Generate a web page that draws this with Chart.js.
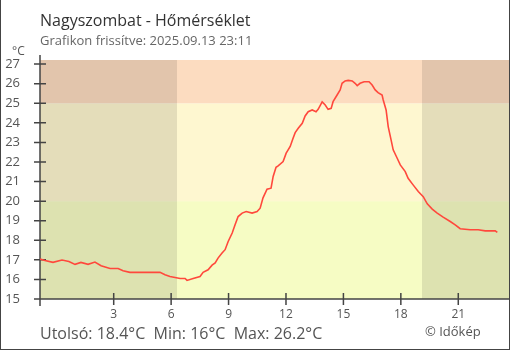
<!DOCTYPE html>
<html>
<head>
<meta charset="utf-8">
<script src="https://cdn.jsdelivr.net/npm/chart.js@4/dist/chart.umd.min.js"></script>
<style>
  html, body { margin: 0; padding: 0; background: #fff; }
  #wrap { position: relative; width: 510px; height: 350px; }
</style>
</head>
<body>
<div id="wrap"><canvas id="myChart" width="510" height="350"></canvas></div>
<script>
// hours since midnight (negative = previous evening)
var hours = [-0.85, -0.59, -0.17, 0.30, 0.66, 0.98, 1.29, 1.66, 2.02, 2.34,
  2.81, 3.23, 3.49, 3.85, 4.64, 5.42, 5.68, 5.94, 6.47, 6.73,
  6.83, 7.15, 7.51, 7.67, 7.93, 8.14, 8.30, 8.45, 8.66, 8.82,
  8.98, 9.19, 9.34, 9.50, 9.71, 9.92, 10.23, 10.49, 10.65, 10.80,
  11.01, 11.22, 11.33, 11.48, 11.59, 11.85, 12.01, 12.22, 12.37, 12.48,
  12.64, 12.85, 13.00, 13.16, 13.37, 13.57, 13.68, 13.89, 14.05, 14.20,
  14.36, 14.46, 14.67, 14.83, 14.93, 15.09, 15.25, 15.46, 15.61, 15.72,
  15.87, 16.08, 16.34, 16.50, 16.66, 16.81, 17.02, 17.08, 17.23, 17.34,
  17.49, 17.60, 17.81, 17.97, 18.23, 18.38, 18.64, 18.91, 19.17, 19.38,
  19.64, 19.90, 20.21, 20.58, 20.84, 21.10, 21.62, 22.04, 22.41, 22.93, 23.04];
var temps = [17.04, 16.97, 16.87, 16.99, 16.92, 16.77, 16.87, 16.77, 16.89, 16.70,
  16.56, 16.56, 16.44, 16.36, 16.36, 16.36, 16.24, 16.15, 16.05, 16.05,
  15.95, 16.05, 16.15, 16.36, 16.49, 16.73, 16.84, 17.09, 17.35, 17.52,
  17.94, 18.37, 18.79, 19.21, 19.39, 19.47, 19.39, 19.47, 19.64, 20.17,
  20.61, 20.66, 21.26, 21.73, 21.80, 22.02, 22.45, 22.79, 23.21, 23.50,
  23.72, 23.98, 24.35, 24.57, 24.66, 24.57, 24.69, 25.07, 24.91, 24.69,
  24.74, 25.08, 25.42, 25.68, 26.02, 26.14, 26.17, 26.14, 26.02, 25.90,
  26.02, 26.10, 26.10, 25.93, 25.68, 25.54, 25.42, 25.17, 24.66, 23.81,
  23.13, 22.62, 22.19, 21.85, 21.51, 21.17, 20.83, 20.49, 20.23, 19.86,
  19.59, 19.39, 19.18, 18.96, 18.79, 18.59, 18.54, 18.54, 18.48, 18.48, 18.40];

var xTicks = [3, 6, 9, 12, 15, 18, 21];
var yTicks = [15, 16, 17, 18, 19, 20, 21, 22, 23, 24, 25, 26, 27];
var bandLimits = [20, 25];       // temperature colour zones
var sunrise = 6.29, sunset = 19.1;

var titleText = 'Nagyszombat - Hőmérséklet';
var subText = 'Grafikon frissítve: 2025.09.13 23:11';
var footText = 'Utolsó: 18.4°C  Min: 16°C  Max: 26.2°C';
var creditText = '© Időkép';

var points = [];
for (var i in hours) {
    points.push({x: hours[i], y: temps[i]});
}

var FONT = '"Open Sans", sans-serif';
var AXIS = '#444';

var bgPlugin = {
    id: 'bands',
    beforeDatasetsDraw: function(chart) {
        var c = chart.ctx, a = chart.chartArea;
        var xs = chart.scales.x, ys = chart.scales.y;
        var yLow = ys.getPixelForValue(bandLimits[0]);
        var yHigh = ys.getPixelForValue(bandLimits[1]);
        c.save();
        c.fillStyle = '#f6fcc4';
        c.fillRect(a.left, yLow, a.right - a.left, a.bottom - yLow);
        c.fillStyle = '#fef7d0';
        c.fillRect(a.left, yHigh, a.right - a.left, yLow - yHigh);
        c.fillStyle = '#fcdcc0';
        c.fillRect(a.left, a.top, a.right - a.left, yHigh - a.top);
        // night shading
        var xr = Math.round(xs.getPixelForValue(sunrise));
        var xsn = Math.round(xs.getPixelForValue(sunset));
        c.fillStyle = 'rgba(0,0,0,0.1)';
        c.fillRect(a.left, a.top, xr - a.left, a.bottom - a.top);
        c.fillRect(xsn, a.top, a.right - xsn, a.bottom - a.top);

        // axes with crossing ticks
        c.strokeStyle = AXIS;
        c.lineWidth = 1.5;
        c.beginPath();
        c.moveTo(a.left, a.top - 5);
        c.lineTo(a.left, a.bottom + 7);
        c.moveTo(a.left - 6, a.bottom);
        c.lineTo(a.right + 2, a.bottom);
        yTicks.forEach(function(v) {
            var y = ys.getPixelForValue(v);
            c.moveTo(a.left - 6, y);
            c.lineTo(a.left + 6, y);
        });
        xTicks.forEach(function(v) {
            var x = xs.getPixelForValue(v);
            c.moveTo(x, a.bottom - 6);
            c.lineTo(x, a.bottom + 6);
        });
        c.stroke();
        c.restore();
    },
    afterDraw: function(chart) {
        var c = chart.ctx;
        c.save();
        c.textBaseline = 'alphabetic';
        c.textAlign = 'left';
        c.fillStyle = '#333';
        c.font = '16px ' + FONT;
        c.fillText(titleText, 40, 26);
        c.fillStyle = '#666';
        c.font = '13px ' + FONT;
        c.fillText(subText, 40, 45);
        c.fillStyle = '#555';
        c.font = '12px ' + FONT;
        c.fillText('°C', 12, 55);
        c.font = '16px ' + FONT;
        c.fillText(footText, 40, 339);
        c.font = '13px ' + FONT;
        c.fillText(creditText, 425, 336);
        // frame
        c.strokeStyle = '#444';
        c.lineWidth = 2;
        c.beginPath();
        c.moveTo(0, 0);
        c.lineTo(0, 350);
        c.lineTo(510, 350);
        c.lineTo(510, 0);
        c.stroke();
        c.restore();
    }
};

var ctx = 'myChart';

var lineChart = new Chart(ctx, {
    type: 'line',
    data: {
        datasets: [{
            data: points,
            borderColor: 'rgb(255,72,60)',
            borderWidth: 1.6,
            pointRadius: 0,
            tension: 0,
            fill: false
        }]
    },
    options: {
        responsive: false,
        animation: false,
        layout: { padding: { top: 60, right: 1, left: 0, bottom: 0 } },
        plugins: {
            legend: { display: false },
            tooltip: { enabled: false }
        },
        scales: {
            x: {
                type: 'linear',
                min: -0.85,
                max: 23.65,
                afterBuildTicks: function(scale) {
                    scale.ticks = xTicks.map(function(v) { return {value: v}; });
                },
                afterFit: function(scale) { scale.height = 51; },
                grid: { display: false, drawTicks: false },
                border: { display: false },
                ticks: {
                    color: '#555',
                    font: { family: FONT, size: 12 },
                    padding: 8,
                    maxRotation: 0
                }
            },
            y: {
                min: 15,
                max: 27.21,
                afterBuildTicks: function(scale) {
                    scale.ticks = yTicks.map(function(v) { return {value: v}; });
                },
                afterFit: function(scale) { scale.width = 40; },
                grid: { display: false, drawTicks: false },
                border: { display: false },
                ticks: {
                    color: '#555',
                    font: { family: FONT, size: 13 },
                    padding: 20
                }
            }
        }
    },
    plugins: [bgPlugin]
});
</script>
</body>
</html>
